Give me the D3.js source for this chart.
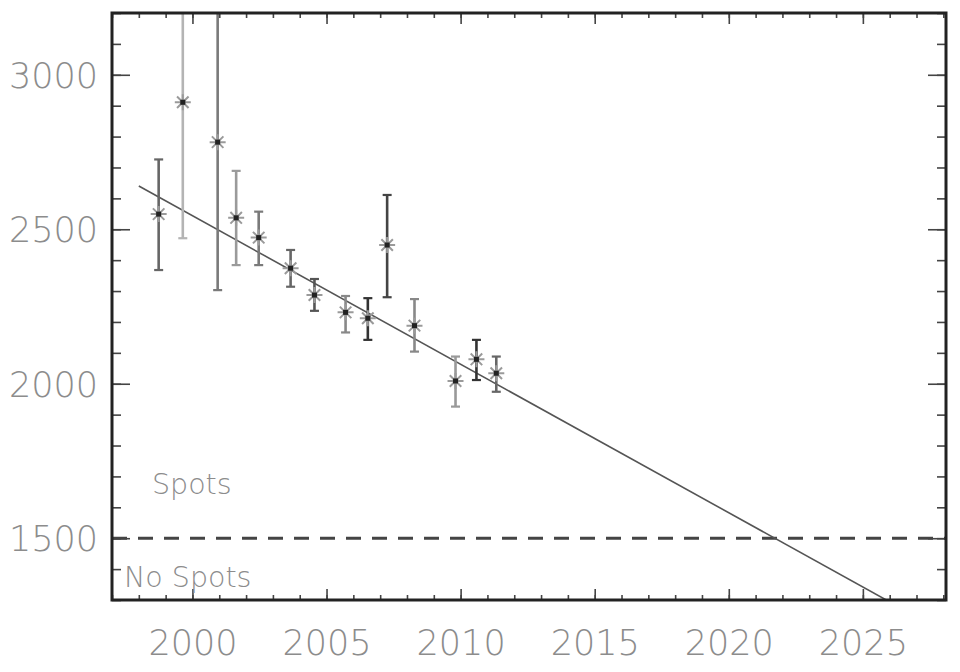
<!DOCTYPE html>
<html>
<head>
<meta charset="utf-8">
<script src="https://cdn.jsdelivr.net/npm/d3@7"></script>
<style>
  html, body { margin: 0; padding: 0; background: #fff; }
  svg { display: block; }
  .lbl { font-family: "DejaVu Sans", sans-serif; font-weight: 200; fill: #8c8c8c; }
</style>
</head>
<body>
<svg id="chart" width="960" height="672"></svg>
<script>
// ---- data ----
const years  = [1998.74, 1999.64, 2000.94, 2001.63, 2002.47, 2003.66, 2004.55, 2005.71, 2006.54, 2007.26, 2008.28, 2009.81, 2010.59, 2011.33];
const values = [2549, 2911, 2782, 2537, 2473, 2374, 2287, 2231, 2212, 2449, 2188, 2009, 2079, 2034];
const errLow  = [2368, 2471, 2303, 2384, 2384, 2314, 2236, 2166, 2142, 2280, 2104, 1926, 2012, 1974];
const errHigh = [2726, 3351, 3261, 2689, 2557, 2433, 2339, 2284, 2277, 2611, 2274, 2088, 2142, 2088];
const trendYears  = [1998.0, 2026.0];
const trendValues = [2640, 1294];
const threshold = 1500;
const xTickLabels = [2000, 2005, 2010, 2015, 2020, 2025];
const yTickLabels = [1500, 2000, 2500, 3000];
const labelAbove = "Spots";
const labelBelow = "No Spots";
// per-bar grey shade (style only)
const barShade = ["#666", "#b4b4b4", "#7a7a7a", "#9a9a9a", "#7a7a7a", "#666", "#555", "#888", "#333", "#444", "#888", "#999", "#333", "#666"];

// ---- layout ----
const L = 112, R = 946, T = 13, B = 600;
const svg = d3.select("#chart");
const x = d3.scaleLinear().domain([1997, 2028.1]).range([L, R]);
const y = d3.scaleLinear().domain([1300, 3200]).range([B, T]);

svg.append("defs").append("clipPath").attr("id", "clip")
  .append("rect").attr("x", L).attr("y", T).attr("width", R - L).attr("height", B - T);

const plot = svg.append("g").attr("clip-path", "url(#clip)");

// dashed threshold
plot.append("line")
  .attr("x1", L).attr("x2", R)
  .attr("y1", y(threshold)).attr("y2", y(threshold))
  .attr("stroke", "#444").attr("stroke-width", 3)
  .attr("stroke-dasharray", "15,11");

// trend line
plot.append("path")
  .datum(trendYears.map((t, i) => [t, trendValues[i]]))
  .attr("d", d3.line().x(d => x(d[0])).y(d => y(d[1])))
  .attr("fill", "none").attr("stroke", "#555").attr("stroke-width", 1.6);

// error bars
const pts = years.map((t, i) => ({ t, v: values[i], lo: errLow[i], hi: errHigh[i], c: barShade[i] }));
const eb = plot.append("g").selectAll("g").data(pts).join("g");
eb.append("line")
  .attr("x1", d => x(d.t)).attr("x2", d => x(d.t))
  .attr("y1", d => y(d.lo)).attr("y2", d => y(d.hi))
  .attr("stroke", d => d.c).attr("stroke-width", 2.6);
eb.append("line")
  .attr("x1", d => x(d.t) - 4.5).attr("x2", d => x(d.t) + 4.5)
  .attr("y1", d => y(d.lo)).attr("y2", d => y(d.lo))
  .attr("stroke", d => d.c).attr("stroke-width", 2.2);
eb.append("line")
  .attr("x1", d => x(d.t) - 4.5).attr("x2", d => x(d.t) + 4.5)
  .attr("y1", d => y(d.hi)).attr("y2", d => y(d.hi))
  .attr("stroke", d => d.c).attr("stroke-width", 2.2);

// asterisk markers
const s = 8;
const starPath = `M${-s},0L${s},0M0,${-s}L0,${s}M${-s*0.72},${-s*0.72}L${s*0.72},${s*0.72}M${-s*0.72},${s*0.72}L${s*0.72},${-s*0.72}`;
const mk = plot.append("g").selectAll("g").data(pts).join("g")
  .attr("transform", d => `translate(${x(d.t)},${y(d.v)})`);
mk.append("path").attr("d", starPath).attr("stroke", "#9a9a9a").attr("stroke-width", 2).attr("fill", "none");
mk.append("rect").attr("x", -2.5).attr("y", -2.5).attr("width", 5).attr("height", 5).attr("fill", "#222");

// ---- axes ----
const majX = xTickLabels;
const minX = d3.range(1997, 2029);
const majY = yTickLabels;
const minY = d3.range(1300, 3201, 100);

function tickStyle(g) {
  g.select(".domain").remove();
  g.selectAll(".tick line").attr("stroke", "#444").attr("stroke-width", 1.6);
}
// bottom
svg.append("g").attr("transform", `translate(0,${B})`)
  .call(d3.axisBottom(x).tickValues(minX).tickSize(-5).tickFormat(""))
  .call(tickStyle);
svg.append("g").attr("transform", `translate(0,${B})`)
  .call(d3.axisBottom(x).tickValues(majX).tickSize(-11).tickFormat(""))
  .call(tickStyle);
// top
svg.append("g").attr("transform", `translate(0,${T})`)
  .call(d3.axisTop(x).tickValues(minX).tickSize(-5).tickFormat(""))
  .call(tickStyle);
svg.append("g").attr("transform", `translate(0,${T})`)
  .call(d3.axisTop(x).tickValues(majX).tickSize(-11).tickFormat(""))
  .call(tickStyle);
// left
svg.append("g").attr("transform", `translate(${L},0)`)
  .call(d3.axisLeft(y).tickValues(minY).tickSize(-9).tickFormat(""))
  .call(tickStyle);
svg.append("g").attr("transform", `translate(${L},0)`)
  .call(d3.axisLeft(y).tickValues(majY).tickSize(-18).tickFormat(""))
  .call(tickStyle);
// right
svg.append("g").attr("transform", `translate(${R},0)`)
  .call(d3.axisRight(y).tickValues(minY).tickSize(-9).tickFormat(""))
  .call(tickStyle);
svg.append("g").attr("transform", `translate(${R},0)`)
  .call(d3.axisRight(y).tickValues(majY).tickSize(-18).tickFormat(""))
  .call(tickStyle);

// tick labels
const xl = svg.append("g").attr("transform", `translate(0,${B})`)
  .call(d3.axisBottom(x).tickValues(majX).tickSize(0).tickPadding(55).tickFormat(d3.format("d")));
xl.select(".domain").remove();
xl.selectAll("text").attr("class", "lbl").attr("font-size", 35).attr("dy", 0).attr("y", 55)
  .attr("font-family", null);

const yl = svg.append("g").attr("transform", `translate(${L},0)`)
  .call(d3.axisLeft(y).tickValues(majY).tickSize(0).tickPadding(14).tickFormat(d3.format("d")));
yl.select(".domain").remove();
yl.selectAll("text").attr("class", "lbl").attr("font-size", 35).attr("dy", "0.36em")
  .attr("font-family", null);

// frame
svg.append("rect").attr("x", L).attr("y", T).attr("width", R - L).attr("height", B - T)
  .attr("fill", "none").attr("stroke", "#222").attr("stroke-width", 3);

// region labels
svg.append("text").attr("class", "lbl").attr("x", 152).attr("y", 494)
  .attr("font-size", 28.5).text(labelAbove);
svg.append("text").attr("class", "lbl").attr("x", 124).attr("y", 587)
  .attr("font-size", 28.5).text(labelBelow);
</script>
</body>
</html>
